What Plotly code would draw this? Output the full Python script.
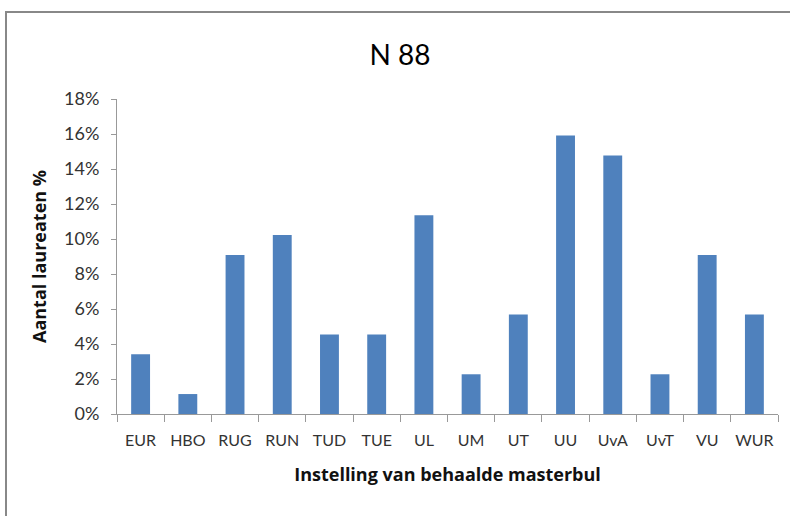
import plotly.graph_objects as go

# share of laureates (n = 88) per institution, in percent
instellingen = ["EUR", "HBO", "RUG", "RUN", "TUD", "TUE", "UL", "UM",
                "UT", "UU", "UvA", "UvT", "VU", "WUR"]
percentages = [3.41, 1.14, 9.09, 10.23, 4.55, 4.55, 11.36, 2.27,
               5.68, 15.91, 14.77, 2.27, 9.09, 5.68]
y_ticks = [0, 2, 4, 6, 8, 10, 12, 14, 16, 18]
y_labels = ["{}%".format(v) for v in y_ticks]

W, H = 790, 516
left, right, top, bottom = 117, 12, 99, 102
font = "Lato, 'Open Sans', sans-serif"
title_font = "'Open Sans', Lato, sans-serif"

fig = go.Figure()
fig.add_trace(go.Bar(x=instellingen, y=percentages, marker_color="#4f81bd",
                     marker_line_width=0))

fig.update_layout(
    width=W, height=H,
    margin=dict(l=left, r=right, t=top, b=bottom, autoexpand=False),
    paper_bgcolor="white", plot_bgcolor="white",
    showlegend=False,
    bargap=0.6,
    font=dict(family=font, color="#333"),
    title=dict(text="N 88", x=400 / W, xanchor="center",
               y=1 - 55 / H, yanchor="middle",
               font=dict(size=28, color="black")),
)
fig.update_xaxes(
    automargin=False, tickangle=0,
    showline=True, linecolor="#999", linewidth=1,
    ticks="outside", tickson="boundaries", ticklen=7, tickcolor="#999",
    ticklabelstandoff=12,
    tickfont=dict(size=16, color="#333"),
    title=dict(text="<b>Instelling van behaalde masterbul</b>",
               font=dict(family=title_font, size=18, color="#111"),
               standoff=20),
)
fig.update_yaxes(
    automargin=False,
    range=[0, 18], tickvals=y_ticks, ticktext=y_labels,
    showgrid=False, zeroline=False,
    showline=True, linecolor="#999", linewidth=1,
    ticks="outside", ticklen=5, tickcolor="#999",
    ticklabelstandoff=8,
    tickfont=dict(size=18, color="#333"),
    title=dict(text="<b>Aantal laureaten %</b>",
               font=dict(family=title_font, size=18, color="#111"),
               standoff=12),
)

# chart frame
pw, ph = W - left - right, H - top - bottom
fig.add_shape(type="rect", xref="paper", yref="paper",
              x0=(6 - left) / pw, x1=(W + 5 - left) / pw,
              y0=-(bottom + 5) / ph, y1=(H - 12 - bottom) / ph,
              line=dict(color="#888", width=2), layer="below")

# page has a default body margin that shifts the chart; drop it
fig.write_html("out.html", config={"displayModeBar": False},
               post_script="document.body.style.margin = '0';")
